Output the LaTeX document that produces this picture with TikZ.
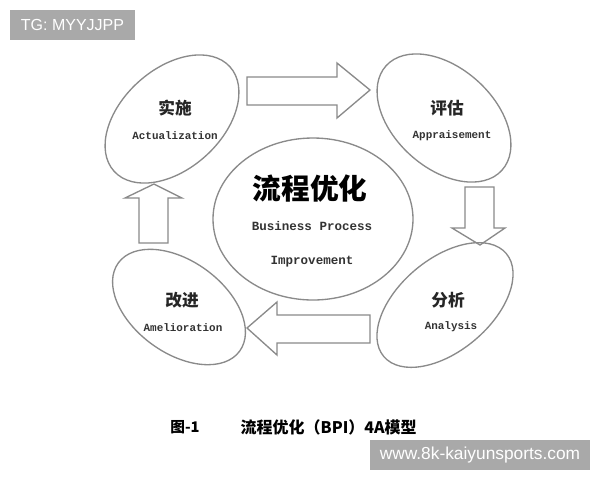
\documentclass[tikz,border=0pt]{standalone}
\usepackage{fontspec}
\setmainfont{Liberation Sans}
\newfontfamily\cjk{Noto Sans CJK SC}
\newfontfamily\mono{Liberation Mono}
\usetikzlibrary{shapes.geometric}
\definecolor{linegray}{HTML}{8A8A8A}
\definecolor{wmgray}{HTML}{A9A9A9}
\tikzset{
  phase/.style={draw=linegray, line width=1pt, ellipse, inner sep=0pt},
  blockarrow/.style={draw=linegray, line width=1pt, line join=miter},
  cnlabel/.style={font=\cjk\bfseries\fontsize{12.5}{14}\selectfont, text=black!85},
  enlabel/.style={font=\mono\bfseries\fontsize{8.2}{9}\selectfont, text=black!80},
  wm/.style={fill=wmgray, text=white, inner sep=0pt, minimum height=22.5pt},
}
\begin{document}
\begin{tikzpicture}[x=0.75pt,y=-0.75pt]
\useasboundingbox[fill=white] (0,0) rectangle (600,480);
% ellipses
\node[phase, minimum width=117pt, minimum height=75pt, rotate=42] (act) at (172,119) {};
\node[phase, minimum width=117pt, minimum height=75pt, rotate=-42] (app) at (444,118) {};
\node[phase, minimum width=112.5pt, minimum height=69pt, rotate=-36] (ame) at (179,307) {};
\node[phase, minimum width=120pt, minimum height=69pt, rotate=40] (ana) at (445,305) {};
\node[phase, minimum width=150pt, minimum height=121.5pt] (bpi) at (313,219) {};
% block arrows
\draw[blockarrow] (247,77) -- (337,77) -- (337,63) -- (370,90) -- (337,118) -- (337,105) -- (247,105) -- cycle;
\draw[blockarrow] (465,187) -- (494,187) -- (494,228) -- (505,228) -- (480,245) -- (452,228) -- (465,228) -- cycle;
\draw[blockarrow] (370,315) -- (277,315) -- (277,302) -- (247,328) -- (277,355) -- (277,343) -- (370,343) -- cycle;
\draw[blockarrow] (139,243) -- (139,198) -- (125,198) -- (154,184) -- (182,198) -- (168,198) -- (168,243) -- cycle;
% labels
\node[cnlabel] (actcn) at (175,108) {实施};
\node[enlabel] (acten) at (175,136) {Actualization};
\node[cnlabel] (appcn) at (447,108) {评估};
\node[enlabel] (appen) at (452,136) {Appraisement};
\node[cnlabel] (amecn) at (182,300) {改进};
\node[enlabel] (ameen) at (183,328) {Amelioration};
\node[cnlabel] (anacn) at (448,300) {分析};
\node[enlabel] (anaen) at (451,327) {Analysis};
\node[font=\cjk\bfseries\fontsize{21.5}{24}\selectfont] (bpicn) at (310,189) {流程优化};
\node[font=\mono\bfseries\fontsize{9.4}{11}\selectfont, text=black!80] (bpien1) at (312,226) {Business Process};
\node[font=\mono\bfseries\fontsize{9.4}{11}\selectfont, text=black!80] (bpien2) at (312,262) {Improvement};
% caption
\node[font=\cjk\bfseries\fontsize{11}{12}\selectfont] (capnum) at (185,427) {图-1};
\node[font=\cjk\bfseries\fontsize{12}{13}\selectfont, anchor=west] (captxt) at (236,427) {流程优化（BPI）4A模型};
% watermarks
\node[wm, minimum width=93.75pt, font=\fontsize{12}{13}\selectfont] (wm1) at (72.5,25) {TG: MYYJJPP};
\node[wm, minimum width=165pt, font=\fontsize{13}{14}\selectfont] (wm2) at (480,455) {www.8k-kaiyunsports.com};
\end{tikzpicture}
\end{document}
